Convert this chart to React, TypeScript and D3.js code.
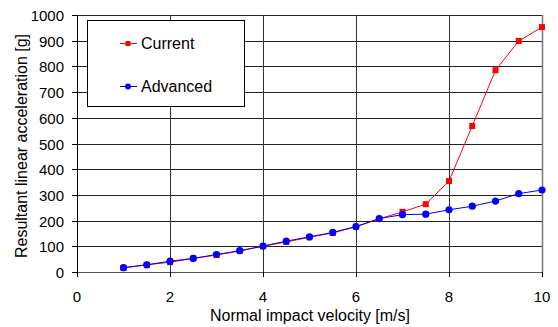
import React from "react";
import * as d3 from "d3";

const velocity = [1, 1.5, 2, 2.5, 3, 3.5, 4, 4.5, 5, 5.5, 6, 6.5, 7, 7.5, 8, 8.5, 9, 9.5, 10];
const currentValues = [16, 28, 38, 53, 66, 82, 100, 117, 135, 152, 176, 207, 234, 264, 354, 568, 785, 899, 953];
const advancedValues = [17, 28, 42, 53, 68, 83, 101, 120, 137, 154, 177, 208, 223, 225, 242, 256, 276, 305, 319];
const xTicks = [0, 2, 4, 6, 8, 10];
const yTicks = [0, 100, 200, 300, 400, 500, 600, 700, 800, 900, 1000];
const seriesNames = ["Current", "Advanced"];

const W = 558, H = 327;
const L = 77, R = 542, T = 15, B = 272;
const FONT = "'Liberation Sans', Arial, sans-serif";

export default function App() {
  const x = d3.scaleLinear().domain([0, 10]).range([L, R]);
  const y = d3.scaleLinear().domain([0, 1000]).range([B, T]);
  const line = d3.line<[number, number]>().x(d => x(d[0])).y(d => y(d[1]));
  const cur = velocity.map((v, i) => [v, currentValues[i]] as [number, number]);
  const adv = velocity.map((v, i) => [v, advancedValues[i]] as [number, number]);

  return (
    <svg width={W} height={H} style={{ position: "absolute", left: 0, top: 0, background: "#fff" }}>
      <rect x={0} y={0} width={W} height={H} fill="#fff" />
      {/* horizontal grid */}
      {yTicks.map(t => (
        <line key={"gy" + t} x1={L} x2={R} y1={Math.round(y(t)) + 0.5} y2={Math.round(y(t)) + 0.5} stroke="#222" strokeWidth={1} />
      ))}
      {xTicks.filter(t => t > 0).map(t => (
        <line key={"gx" + t} x1={Math.round(x(t)) + 0.5} x2={Math.round(x(t)) + 0.5} y1={T} y2={B} stroke="#333" strokeWidth={1} />
      ))}
      {/* axes */}
      <line x1={L + 0.5} x2={L + 0.5} y1={T} y2={B + 5} stroke="#000" />
      <line x1={L - 5} x2={R} y1={Math.round(y(0)) + 0.5} y2={Math.round(y(0)) + 0.5} stroke="#555" />
      <line x1={R + 0.5} x2={R + 0.5} y1={T} y2={B} stroke="#777" strokeWidth={1.5} />
      {yTicks.map(t => (
        <g key={"ty" + t}>
          <line x1={L - 5} x2={L} y1={Math.round(y(t)) + 0.5} y2={Math.round(y(t)) + 0.5} stroke="#000" />
          <text x={L - 13} y={y(t) + 6} textAnchor="end" fontFamily={FONT} fontSize={15} fill="#000">{t}</text>
        </g>
      ))}
      {xTicks.map(t => (
        <g key={"tx" + t}>
          <line x1={Math.round(x(t)) + 0.5} x2={Math.round(x(t)) + 0.5} y1={B} y2={B + 5} stroke="#000" />
          <text x={x(t)} y={302} textAnchor="middle" fontFamily={FONT} fontSize={15} fill="#000">{t}</text>
        </g>
      ))}
      <text x={310} y={321} textAnchor="middle" fontFamily={FONT} fontSize={16} fill="#000">Normal impact velocity [m/s]</text>
      <text transform={`translate(27,146) rotate(-90)`} textAnchor="middle" fontFamily={FONT} fontSize={16} fill="#000">Resultant linear acceleration [g]</text>

      {/* series */}
      <path d={line(cur) || ""} fill="none" stroke="#ff0000" strokeWidth={1} />
      {cur.map((d, i) => (
        <rect key={"c" + i} x={x(d[0]) - 3} y={y(d[1]) - 3} width={6} height={6} fill="#ff0000" />
      ))}
      <path d={line(adv) || ""} fill="none" stroke="#0000ff" strokeWidth={1} />
      {adv.map((d, i) => (
        <circle key={"a" + i} cx={x(d[0])} cy={y(d[1])} r={3.6} fill="#0000ff" />
      ))}

      {/* legend */}
      <rect x={87.5} y={20.5} width={157} height={86} fill="#fff" stroke="#000" strokeWidth={1} />
      {seriesNames.map((name, i) => {
        const ly = 43.5 + i * 43;
        const color = i === 0 ? "#ff0000" : "#0000ff";
        return (
          <g key={name}>
            <line x1={120} x2={137} y1={ly} y2={ly} stroke={color} />
            {i === 0 ? (
              <rect x={125.5} y={ly - 2.5} width={5} height={5} fill={color} />
            ) : (
              <circle cx={128} cy={ly} r={3} fill={color} />
            )}
            <text x={141} y={ly + 5.5} fontFamily={FONT} fontSize={16} fill="#000">{name}</text>
          </g>
        );
      })}
    </svg>
  );
}
